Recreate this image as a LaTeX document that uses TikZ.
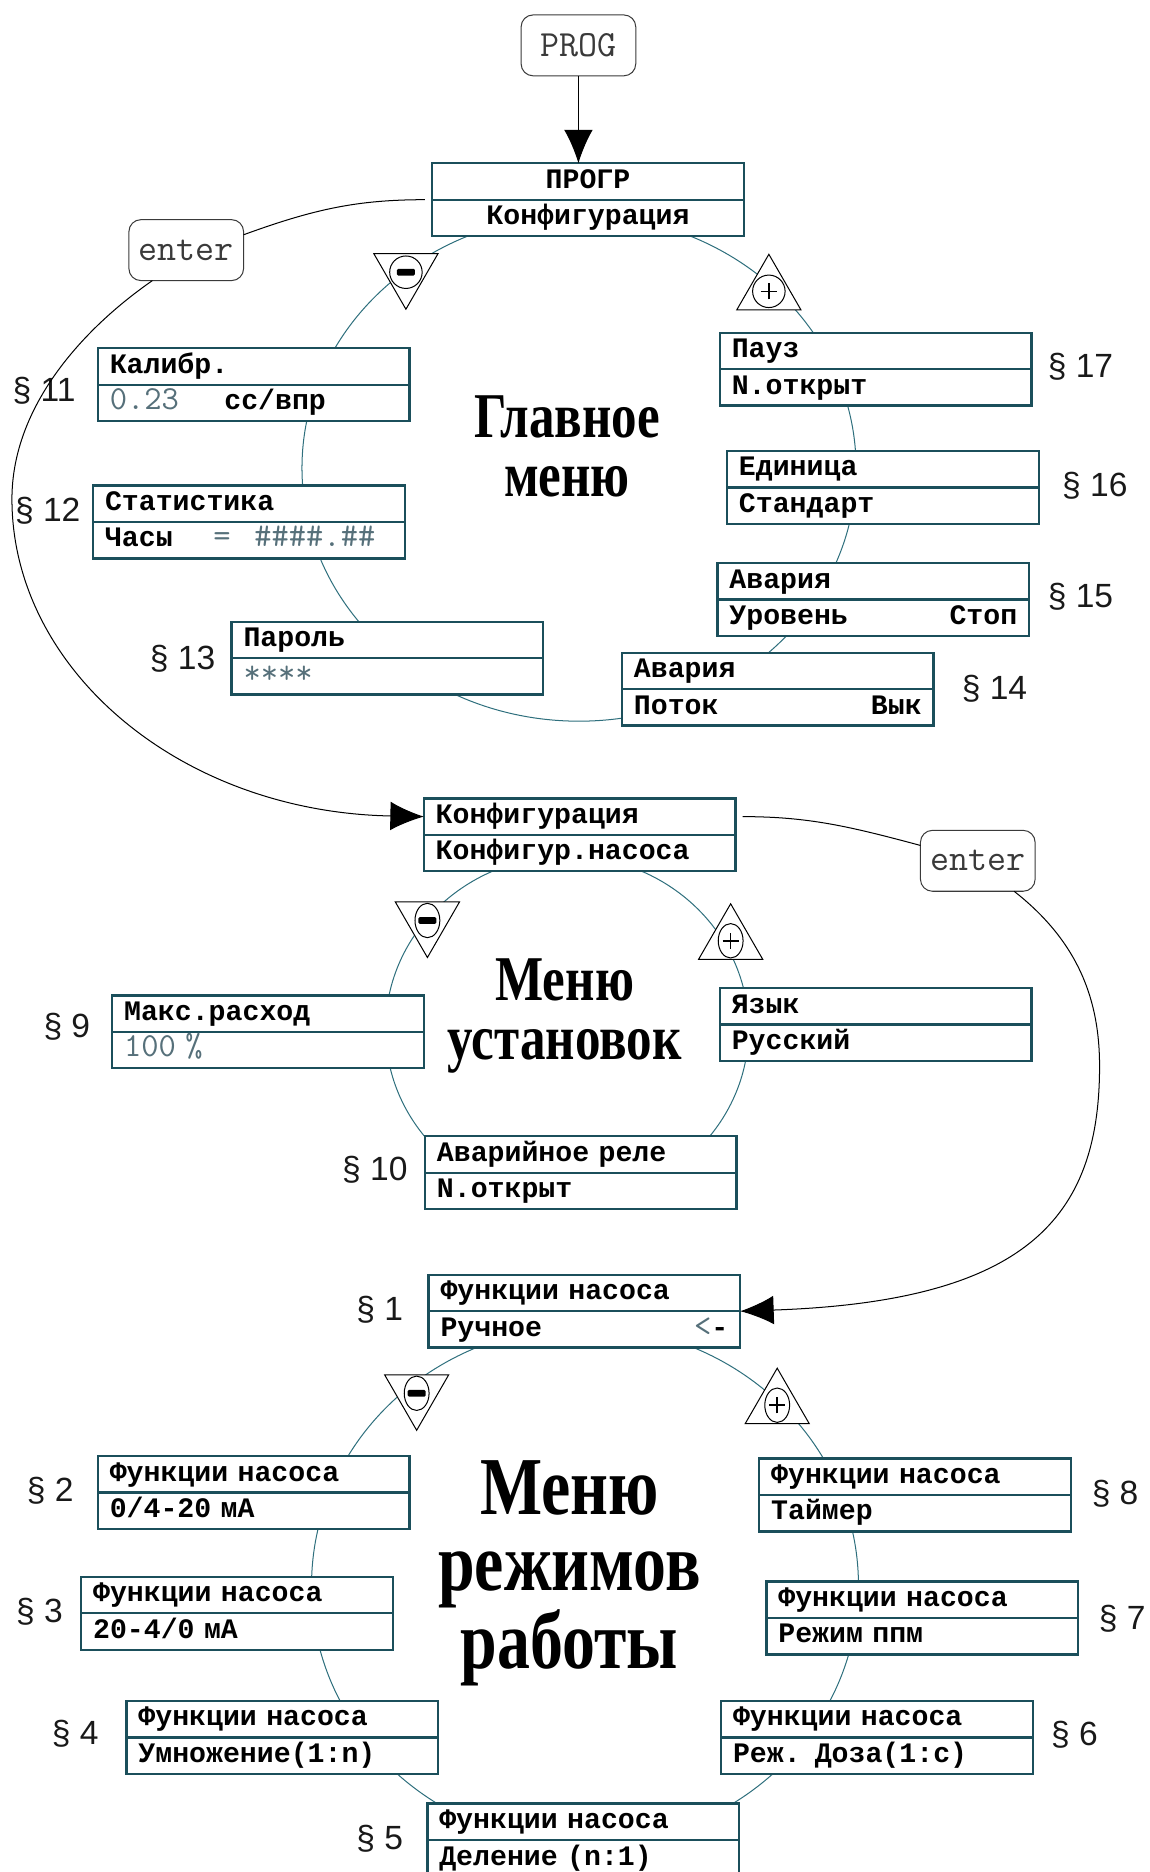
\documentclass[tikz,border=0pt]{standalone}
\usepackage{fontspec}
\newfontfamily\boxfont{Liberation Mono}
\newfontfamily\secfont{Liberation Sans}
\newfontfamily\titlefont[FakeStretch=0.8]{Liberation Serif}
\usepackage{xcolor}
\usepackage{tikz}
\usetikzlibrary{shapes.geometric,arrows.meta,positioning,calc}

\definecolor{boxline}{HTML}{1B4F5B}
\definecolor{ringline}{HTML}{2E6F7D}
\definecolor{dimtext}{HTML}{56707A}
\definecolor{keyline}{HTML}{3A3A3A}
\newcommand\dimtt[1]{{\ttfamily\mdseries\fontsize{20}{20}\selectfont\color{dimtext}#1}}

\begin{document}
\begin{tikzpicture}[x=0.025cm, y=-0.025cm,
  every node/.style={outer sep=0pt},
  menurow/.style={draw=boxline, line width=1.4pt, fill=white,
                  text width=6.025cm, inner xsep=0.25cm, inner ysep=0pt,
                  minimum height=0.7625cm, text height=11.5pt, text depth=3.5pt,
                  align=left, font=\boxfont\bfseries\fontsize{16.8}{18}\selectfont},
  keybox/.style={draw=keyline, line width=0.6pt, rounded corners=0.25cm, fill=white,
                 minimum width=2.4cm, minimum height=1.275cm, text=keyline,
                 font=\ttfamily\fontsize{22}{24}\selectfont},
  seclbl/.style={font=\secfont\fontsize{20}{24}\selectfont, text=black!90},
  ttl/.style={align=center, font=\titlefont\bfseries\fontsize{38}{35.5}\selectfont},
  ttlbig/.style={align=center, font=\titlefont\bfseries\fontsize{49}{45.5}\selectfont},
  ring/.style={draw=ringline, line width=0.6pt},
  conn/.style={line width=0.6pt},
  flow/.style={conn, -{Latex[length=0.7cm,width=0.6cm]}},
  uptri/.style={regular polygon, regular polygon sides=3, draw, fill=white,
                line width=0.6pt, minimum size=1.55cm, inner sep=0pt},
  downtri/.style={uptri, shape border rotate=180},
  circknob/.style={circle, minimum size=0.68cm},
  ovalknob/.style={ellipse, minimum width=0.52cm, minimum height=0.72cm},
  minusdot/.style={draw, fill=white, line width=0.6pt, inner sep=0pt,
                   path picture={\fill[black, rounded corners=0.8pt]
                     ([shift={(-0.19cm,-0.07cm)}]path picture bounding box.center)
                     rectangle ++(0.38cm,0.14cm);}},
  plusdot/.style={draw, fill=white, line width=0.6pt, inner sep=0pt,
                  path picture={\draw[black, line width=0.9pt]
                    ([xshift=-0.17cm]path picture bounding box.center) -- ++(0.34cm,0cm)
                    ([yshift=-0.17cm]path picture bounding box.center) -- ++(0cm,0.34cm);}}
]
\useasboundingbox (0,0) rectangle (963,1568);

%% Main menu ring
\draw[ring] (485,392) ellipse [x radius=5.8cm, y radius=5.3cm];
\node[keybox] (prog) at (484.5,38) {PROG};
\node[menurow, align=center] (prgr) at (492.5,152) {ПРОГР};
\node[menurow, align=center, below=0pt of prgr] (prgrv) {Конфигурация};
\draw[flow] (prog.south) -- (prog.south |- prgr.north);
\node[keybox] (enterA) at (156,209.5) {enter};
\draw[conn, shorten <=0.15cm] (prgr.south west) to[out=180, in=20] (enterA.15);

\node[downtri] (minA) at (340,228) {};
\node[circknob, minusdot] (minAk) at (minA) {};
\node[uptri] (plusA) at (644,244) {};
\node[circknob, plusdot] (plusAk) at (plusA) {};

\node[menurow] (kal) at (212.5,307) {Калибр.};
\node[menurow, below=0pt of kal] (kalv) {\dimtt{0.23}\hspace{0.95cm}cc/впр};
\node[menurow] (stat) at (208.5,422) {Статистика};
\node[menurow, below=0pt of stat] (statv) {Часы\hspace{0.85cm}\dimtt{=\hspace{0.3cm} \#\#\#\#.\#\#}};
\node[menurow] (pass) at (324.5,536) {Пароль};
\node[menurow, below=0pt of pass] (passv) {\dimtt{****}};
\node[menurow] (pause) at (733.5,294) {Пауз};
\node[menurow, below=0pt of pause] (pausev) {N.открыт};
\node[menurow] (unit) at (739.5,393) {Единица};
\node[menurow, below=0pt of unit] (unitv) {Стандарт};
\node[menurow] (alvl) at (731.5,487) {Авария};
\node[menurow, below=0pt of alvl] (alvlv) {Уровень\hfill Стоп};
\node[menurow] (aflow) at (651.5,562) {Авария};
\node[menurow, below=0pt of aflow] (aflowv) {Поток\hfill Вык};

\node[ttl] (tmain) at (475,374) {Главное\\меню};
\node[seclbl] (s11) at (37,327) {§ 11};
\node[seclbl] (s12) at (40,428) {§ 12};
\node[seclbl] (s13) at (153,552) {§ 13};
\node[seclbl] (s17) at (905,307) {§ 17};
\node[seclbl] (s16) at (917,407) {§ 16};
\node[seclbl] (s15) at (905,500) {§ 15};
\node[seclbl] (s14) at (833,577) {§ 14};

%% Settings ring
\draw[ring] (475,862) ellipse [x radius=3.8cm, y radius=3.625cm];
\node[menurow] (conf) at (485.5,684) {Конфигурация};
\node[menurow, below=0pt of conf] (confv) {Конфигур.насоса};
\node[keybox] (enterB) at (819,721) {enter};
\draw[conn, shorten <=0.15cm] (conf.east) to[out=0, in=165] (enterB.165);
\draw[flow] (enterA.222) .. controls (70,275) and (10,340) .. (10,418)
            .. controls (10,560) and (150,680) .. (conf.west);

\node[downtri] (minB) at (358,771) {};
\node[ovalknob, minusdot] (minBk) at (minB) {};
\node[uptri] (plusB) at (612,788) {};
\node[ovalknob, plusdot] (plusBk) at (plusB) {};

\node[menurow] (maxf) at (224.5,849) {Макс.расход};
\node[menurow, below=0pt of maxf] (maxfv) {\dimtt{100 \%}};
\node[menurow] (lang) at (733.5,843) {Язык};
\node[menurow, below=0pt of lang] (langv) {Русский};
\node[menurow] (relay) at (486.5,967) {Аварийное реле};
\node[menurow, below=0pt of relay] (relayv) {N.открыт};

\node[ttl] (tset) at (473,851) {Меню\\установок};
\node[seclbl] (s9) at (56,860) {§ 9};
\node[seclbl] (s10) at (314,980) {§ 10};

%% Pump mode ring
\draw[ring] (490,1328) ellipse [x radius=5.725cm, y radius=5.425cm];
\node[menurow] (f1) at (489.5,1083) {Функции насоса};
\node[menurow, below=0pt of f1] (f1v) {Ручное\hfill{\dimtt{<}}-};
\draw[flow] (enterB.320) .. controls (905,790) and (921,840) .. (921,893)
            .. controls (921,1020) and (860,1090) .. (f1.south east);

\node[downtri] (minC) at (349,1167) {};
\node[ovalknob, minusdot] (minCk) at (minC) {};
\node[uptri] (plusC) at (651,1177) {};
\node[ovalknob, plusdot] (plusCk) at (plusC) {};

\node[menurow] (f2) at (212.5,1235) {Функции насоса};
\node[menurow, below=0pt of f2] (f2v) {0/4-20 мА};
\node[menurow] (f3) at (198.5,1336) {Функции насоса};
\node[menurow, below=0pt of f3] (f3v) {20-4/0 мА};
\node[menurow] (f4) at (236.5,1440) {Функции насоса};
\node[menurow, below=0pt of f4] (f4v) {Умножение(1:n)};
\node[menurow] (f5) at (488.5,1526) {Функции насоса};
\node[menurow, below=0pt of f5] (f5v) {Деление (n:1)};
\node[menurow] (f6) at (734.5,1440) {Функции насоса};
\node[menurow, below=0pt of f6] (f6v) {Реж. Доза(1:c)};
\node[menurow] (f7) at (772.5,1340) {Функции насоса};
\node[menurow, below=0pt of f7] (f7v) {Режим ппм};
\node[menurow] (f8) at (766.5,1237) {Функции насоса};
\node[menurow, below=0pt of f8] (f8v) {Таймер};

\node[ttlbig] (tmode) at (477,1318) {Меню\\режимов\\работы};
\node[seclbl] (s1) at (318,1097) {§ 1};
\node[seclbl] (s2) at (42,1249) {§ 2};
\node[seclbl] (s3) at (33,1350) {§ 3};
\node[seclbl] (s4) at (63,1452) {§ 4};
\node[seclbl] (s5) at (318,1540) {§ 5};
\node[seclbl] (s6) at (900,1453) {§ 6};
\node[seclbl] (s7) at (940,1356) {§ 7};
\node[seclbl] (s8) at (934,1251) {§ 8};
\end{tikzpicture}
\end{document}
